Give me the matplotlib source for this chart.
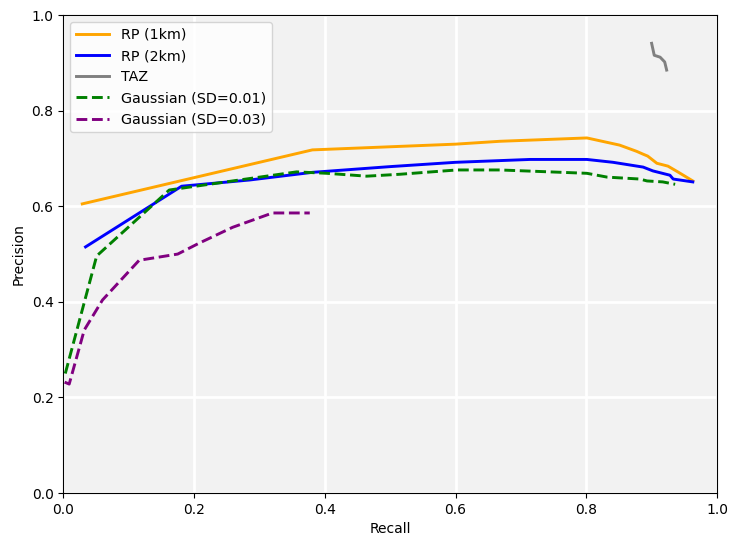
import matplotlib
matplotlib.use("Agg")
import matplotlib.pyplot as plt

rp1_x = [0.029, 0.381, 0.60, 0.668, 0.801, 0.851, 0.877, 0.887, 0.894, 0.908, 0.925, 0.940, 0.963]
rp1_y = [0.605, 0.718, 0.730, 0.736, 0.743, 0.728, 0.715, 0.709, 0.705, 0.690, 0.684, 0.672, 0.653]

rp2_x = [0.034, 0.181, 0.285, 0.381, 0.50, 0.60, 0.714, 0.801, 0.841, 0.887, 0.902, 0.928, 0.933, 0.963]
rp2_y = [0.515, 0.642, 0.655, 0.671, 0.683, 0.692, 0.698, 0.698, 0.692, 0.682, 0.674, 0.665, 0.657, 0.651]

taz_x = [0.900, 0.904, 0.913, 0.920, 0.923]
taz_y = [0.941, 0.916, 0.912, 0.902, 0.885]

g1_x = [0.003, 0.051, 0.162, 0.182, 0.259, 0.357, 0.403, 0.464, 0.515, 0.602, 0.668, 0.801, 0.832, 0.882, 0.893, 0.917, 0.936]
g1_y = [0.250, 0.496, 0.634, 0.638, 0.653, 0.672, 0.669, 0.663, 0.667, 0.676, 0.676, 0.669, 0.661, 0.657, 0.653, 0.651, 0.646]

g3_x = [0.002, 0.009, 0.032, 0.060, 0.116, 0.175, 0.208, 0.259, 0.320, 0.377]
g3_y = [0.232, 0.228, 0.341, 0.404, 0.487, 0.500, 0.523, 0.556, 0.586, 0.586]

fig, ax = plt.subplots(figsize=(7.32, 5.4), dpi=100)
ax.set_facecolor('#f2f2f2')
ax.grid(True, color='white', linewidth=2)
ax.set_axisbelow(True)

ax.plot(rp1_x, rp1_y, color='orange', lw=2.1, label='RP (1km)')
ax.plot(rp2_x, rp2_y, color='blue', lw=2.1, label='RP (2km)')
ax.plot(taz_x, taz_y, color='gray', lw=2.1, label='TAZ')
ax.plot(g1_x, g1_y, color='green', lw=2.1, ls='--', label='Gaussian (SD=0.01)')
ax.plot(g3_x, g3_y, color='purple', lw=2.1, ls='--', label='Gaussian (SD=0.03)')

ax.set_xlim(0, 1)
ax.set_ylim(0, 1)
ax.set_xlabel('Recall')
ax.set_ylabel('Precision')
ax.legend(loc='upper left', facecolor='white', framealpha=0.8, handlelength=2.3, fontsize=10.3)
fig.subplots_adjust(left=0.0865, right=0.9795, top=0.972, bottom=0.087)
fig.savefig('out.png', dpi=100)
